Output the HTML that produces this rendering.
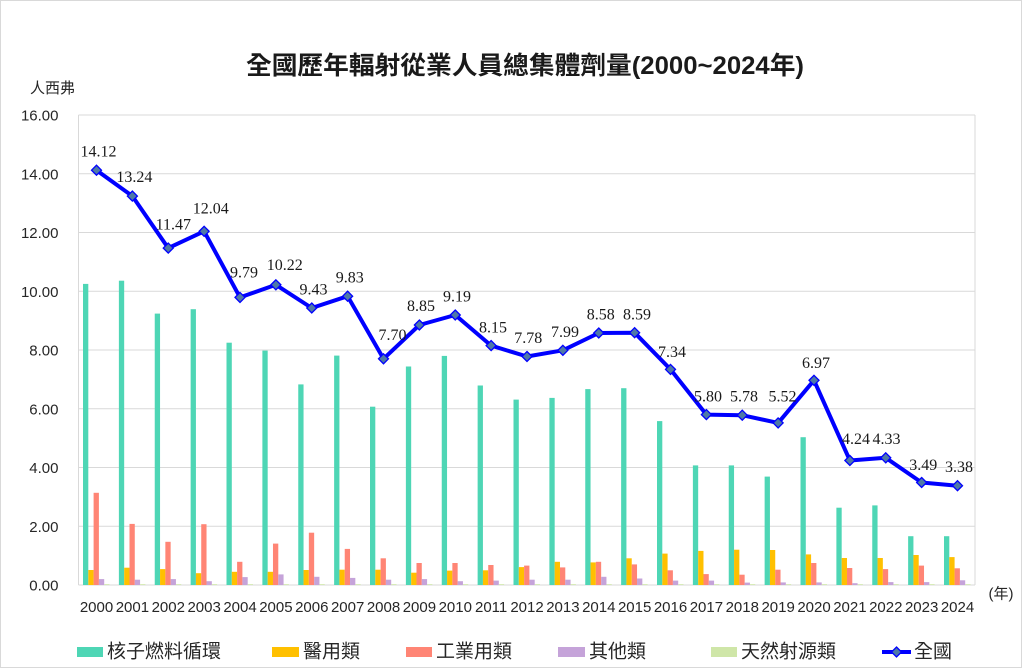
<!DOCTYPE html>
<html><head><meta charset="utf-8"><style>
html,body{margin:0;padding:0;background:#fff;}
svg{display:block;}
.t{font-family:"Liberation Sans","Noto Sans CJK TC",sans-serif;}
.ax{font-family:"Liberation Sans","Noto Sans CJK TC",sans-serif;font-size:15px;fill:#262626;}
.dl{font-family:"Liberation Serif","Noto Serif CJK SC",serif;font-size:16px;fill:#1a1a1a;text-anchor:middle;}
.lg{font-family:"Liberation Sans","Noto Sans CJK TC",sans-serif;font-size:19px;fill:#262626;dominant-baseline:central;}
</style></head><body>
<svg width="1024" height="669" viewBox="0 0 1024 669" xmlns="http://www.w3.org/2000/svg">
<rect x="0" y="0" width="1024" height="669" fill="#fff"/>
<rect x="0.5" y="0.5" width="1021" height="667" fill="none" stroke="#d9d9d9" stroke-width="1"/>
<text class="t" x="246" y="74" font-size="25" font-weight="bold" fill="#1a1a1a" textLength="558" lengthAdjust="spacingAndGlyphs">全國歷年輻射從業人員總集體劑量(2000~2024年)</text>
<text class="ax" x="30" y="93" fill="#404040">人西弗</text>
<!-- grid -->
<g stroke="#d9d9d9" stroke-width="1">
<line x1="78.5" y1="115" x2="975" y2="115"/>
<line x1="78.5" y1="173.75" x2="975" y2="173.75"/>
<line x1="78.5" y1="232.5" x2="975" y2="232.5"/>
<line x1="78.5" y1="291.25" x2="975" y2="291.25"/>
<line x1="78.5" y1="350" x2="975" y2="350"/>
<line x1="78.5" y1="408.75" x2="975" y2="408.75"/>
<line x1="78.5" y1="467.5" x2="975" y2="467.5"/>
<line x1="78.5" y1="526.25" x2="975" y2="526.25"/>
<line x1="78.5" y1="585" x2="975" y2="585"/>
<line x1="78.5" y1="115" x2="78.5" y2="585"/>
<line x1="975" y1="115" x2="975" y2="585"/>
</g>
<!-- y labels -->
<g class="ax" text-anchor="end">
<text x="58.5" y="120.5">16.00</text>
<text x="58.5" y="179.25">14.00</text>
<text x="58.5" y="238">12.00</text>
<text x="58.5" y="296.75">10.00</text>
<text x="58.5" y="355.5">8.00</text>
<text x="58.5" y="414.25">6.00</text>
<text x="58.5" y="473">4.00</text>
<text x="58.5" y="531.75">2.00</text>
<text x="58.5" y="590.5">0.00</text>
</g>
<!-- bars -->
<g id="bars">
<g transform="translate(96.5 585)"><rect x="-13.5" y="-301.1" width="5.3" height="301.1" fill="#4ED6B5"/><rect x="-8.2" y="-15.0" width="5.3" height="15.0" fill="#FFC000"/><rect x="-2.9" y="-92.2" width="5.3" height="92.2" fill="#FF8575"/><rect x="2.4" y="-5.9" width="5.3" height="5.9" fill="#C5A3D9"/><rect x="7.7" y="-0.8" width="5.3" height="0.8" fill="#CFE6A8"/></g>
<g transform="translate(132.38 585)"><rect x="-13.5" y="-304.3" width="5.3" height="304.3" fill="#4ED6B5"/><rect x="-8.2" y="-17.3" width="5.3" height="17.3" fill="#FFC000"/><rect x="-2.9" y="-61.1" width="5.3" height="61.1" fill="#FF8575"/><rect x="2.4" y="-5.3" width="5.3" height="5.3" fill="#C5A3D9"/><rect x="7.7" y="-0.8" width="5.3" height="0.8" fill="#CFE6A8"/></g>
<g transform="translate(168.25 585)"><rect x="-13.5" y="-271.4" width="5.3" height="271.4" fill="#4ED6B5"/><rect x="-8.2" y="-15.9" width="5.3" height="15.9" fill="#FFC000"/><rect x="-2.9" y="-43.2" width="5.3" height="43.2" fill="#FF8575"/><rect x="2.4" y="-5.9" width="5.3" height="5.9" fill="#C5A3D9"/><rect x="7.7" y="-0.8" width="5.3" height="0.8" fill="#CFE6A8"/></g>
<g transform="translate(204.13 585)"><rect x="-13.5" y="-275.8" width="5.3" height="275.8" fill="#4ED6B5"/><rect x="-8.2" y="-11.8" width="5.3" height="11.8" fill="#FFC000"/><rect x="-2.9" y="-60.8" width="5.3" height="60.8" fill="#FF8575"/><rect x="2.4" y="-3.8" width="5.3" height="3.8" fill="#C5A3D9"/><rect x="7.7" y="-0.8" width="5.3" height="0.8" fill="#CFE6A8"/></g>
<g transform="translate(240 585)"><rect x="-13.5" y="-242.3" width="5.3" height="242.3" fill="#4ED6B5"/><rect x="-8.2" y="-13.2" width="5.3" height="13.2" fill="#FFC000"/><rect x="-2.9" y="-23.2" width="5.3" height="23.2" fill="#FF8575"/><rect x="2.4" y="-7.9" width="5.3" height="7.9" fill="#C5A3D9"/><rect x="7.7" y="-0.8" width="5.3" height="0.8" fill="#CFE6A8"/></g>
<g transform="translate(275.88 585)"><rect x="-13.5" y="-234.4" width="5.3" height="234.4" fill="#4ED6B5"/><rect x="-8.2" y="-13.2" width="5.3" height="13.2" fill="#FFC000"/><rect x="-2.9" y="-41.4" width="5.3" height="41.4" fill="#FF8575"/><rect x="2.4" y="-10.6" width="5.3" height="10.6" fill="#C5A3D9"/><rect x="7.7" y="-0.8" width="5.3" height="0.8" fill="#CFE6A8"/></g>
<g transform="translate(311.75 585)"><rect x="-13.5" y="-200.6" width="5.3" height="200.6" fill="#4ED6B5"/><rect x="-8.2" y="-15.0" width="5.3" height="15.0" fill="#FFC000"/><rect x="-2.9" y="-52.3" width="5.3" height="52.3" fill="#FF8575"/><rect x="2.4" y="-8.2" width="5.3" height="8.2" fill="#C5A3D9"/><rect x="7.7" y="-0.8" width="5.3" height="0.8" fill="#CFE6A8"/></g>
<g transform="translate(347.63 585)"><rect x="-13.5" y="-229.4" width="5.3" height="229.4" fill="#4ED6B5"/><rect x="-8.2" y="-15.3" width="5.3" height="15.3" fill="#FFC000"/><rect x="-2.9" y="-36.1" width="5.3" height="36.1" fill="#FF8575"/><rect x="2.4" y="-7.1" width="5.3" height="7.1" fill="#C5A3D9"/><rect x="7.7" y="-0.8" width="5.3" height="0.8" fill="#CFE6A8"/></g>
<g transform="translate(383.5 585)"><rect x="-13.5" y="-178.3" width="5.3" height="178.3" fill="#4ED6B5"/><rect x="-8.2" y="-15.3" width="5.3" height="15.3" fill="#FFC000"/><rect x="-2.9" y="-26.7" width="5.3" height="26.7" fill="#FF8575"/><rect x="2.4" y="-5.3" width="5.3" height="5.3" fill="#C5A3D9"/><rect x="7.7" y="-0.8" width="5.3" height="0.8" fill="#CFE6A8"/></g>
<g transform="translate(419.38 585)"><rect x="-13.5" y="-218.5" width="5.3" height="218.5" fill="#4ED6B5"/><rect x="-8.2" y="-12.3" width="5.3" height="12.3" fill="#FFC000"/><rect x="-2.9" y="-22.0" width="5.3" height="22.0" fill="#FF8575"/><rect x="2.4" y="-5.9" width="5.3" height="5.9" fill="#C5A3D9"/><rect x="7.7" y="-0.8" width="5.3" height="0.8" fill="#CFE6A8"/></g>
<g transform="translate(455.25 585)"><rect x="-13.5" y="-229.1" width="5.3" height="229.1" fill="#4ED6B5"/><rect x="-8.2" y="-14.4" width="5.3" height="14.4" fill="#FFC000"/><rect x="-2.9" y="-22.0" width="5.3" height="22.0" fill="#FF8575"/><rect x="2.4" y="-3.8" width="5.3" height="3.8" fill="#C5A3D9"/><rect x="7.7" y="-0.8" width="5.3" height="0.8" fill="#CFE6A8"/></g>
<g transform="translate(491.13 585)"><rect x="-13.5" y="-199.5" width="5.3" height="199.5" fill="#4ED6B5"/><rect x="-8.2" y="-14.7" width="5.3" height="14.7" fill="#FFC000"/><rect x="-2.9" y="-20.0" width="5.3" height="20.0" fill="#FF8575"/><rect x="2.4" y="-4.4" width="5.3" height="4.4" fill="#C5A3D9"/><rect x="7.7" y="-0.8" width="5.3" height="0.8" fill="#CFE6A8"/></g>
<g transform="translate(527 585)"><rect x="-13.5" y="-185.4" width="5.3" height="185.4" fill="#4ED6B5"/><rect x="-8.2" y="-17.9" width="5.3" height="17.9" fill="#FFC000"/><rect x="-2.9" y="-19.4" width="5.3" height="19.4" fill="#FF8575"/><rect x="2.4" y="-5.3" width="5.3" height="5.3" fill="#C5A3D9"/><rect x="7.7" y="-0.8" width="5.3" height="0.8" fill="#CFE6A8"/></g>
<g transform="translate(562.88 585)"><rect x="-13.5" y="-187.1" width="5.3" height="187.1" fill="#4ED6B5"/><rect x="-8.2" y="-23.2" width="5.3" height="23.2" fill="#FFC000"/><rect x="-2.9" y="-17.6" width="5.3" height="17.6" fill="#FF8575"/><rect x="2.4" y="-5.3" width="5.3" height="5.3" fill="#C5A3D9"/><rect x="7.7" y="-0.8" width="5.3" height="0.8" fill="#CFE6A8"/></g>
<g transform="translate(598.75 585)"><rect x="-13.5" y="-195.9" width="5.3" height="195.9" fill="#4ED6B5"/><rect x="-8.2" y="-22.6" width="5.3" height="22.6" fill="#FFC000"/><rect x="-2.9" y="-23.2" width="5.3" height="23.2" fill="#FF8575"/><rect x="2.4" y="-8.2" width="5.3" height="8.2" fill="#C5A3D9"/><rect x="7.7" y="-0.8" width="5.3" height="0.8" fill="#CFE6A8"/></g>
<g transform="translate(634.63 585)"><rect x="-13.5" y="-196.8" width="5.3" height="196.8" fill="#4ED6B5"/><rect x="-8.2" y="-26.7" width="5.3" height="26.7" fill="#FFC000"/><rect x="-2.9" y="-20.6" width="5.3" height="20.6" fill="#FF8575"/><rect x="2.4" y="-6.5" width="5.3" height="6.5" fill="#C5A3D9"/><rect x="7.7" y="-0.8" width="5.3" height="0.8" fill="#CFE6A8"/></g>
<g transform="translate(670.5 585)"><rect x="-13.5" y="-163.9" width="5.3" height="163.9" fill="#4ED6B5"/><rect x="-8.2" y="-31.4" width="5.3" height="31.4" fill="#FFC000"/><rect x="-2.9" y="-14.7" width="5.3" height="14.7" fill="#FF8575"/><rect x="2.4" y="-4.4" width="5.3" height="4.4" fill="#C5A3D9"/><rect x="7.7" y="-0.8" width="5.3" height="0.8" fill="#CFE6A8"/></g>
<g transform="translate(706.38 585)"><rect x="-13.5" y="-119.6" width="5.3" height="119.6" fill="#4ED6B5"/><rect x="-8.2" y="-34.1" width="5.3" height="34.1" fill="#FFC000"/><rect x="-2.9" y="-10.9" width="5.3" height="10.9" fill="#FF8575"/><rect x="2.4" y="-4.4" width="5.3" height="4.4" fill="#C5A3D9"/><rect x="7.7" y="-0.8" width="5.3" height="0.8" fill="#CFE6A8"/></g>
<g transform="translate(742.25 585)"><rect x="-13.5" y="-119.6" width="5.3" height="119.6" fill="#4ED6B5"/><rect x="-8.2" y="-35.3" width="5.3" height="35.3" fill="#FFC000"/><rect x="-2.9" y="-10.3" width="5.3" height="10.3" fill="#FF8575"/><rect x="2.4" y="-2.4" width="5.3" height="2.4" fill="#C5A3D9"/><rect x="7.7" y="-0.8" width="5.3" height="0.8" fill="#CFE6A8"/></g>
<g transform="translate(778.13 585)"><rect x="-13.5" y="-108.4" width="5.3" height="108.4" fill="#4ED6B5"/><rect x="-8.2" y="-35.0" width="5.3" height="35.0" fill="#FFC000"/><rect x="-2.9" y="-15.3" width="5.3" height="15.3" fill="#FF8575"/><rect x="2.4" y="-2.6" width="5.3" height="2.6" fill="#C5A3D9"/><rect x="7.7" y="-0.8" width="5.3" height="0.8" fill="#CFE6A8"/></g>
<g transform="translate(814 585)"><rect x="-13.5" y="-147.8" width="5.3" height="147.8" fill="#4ED6B5"/><rect x="-8.2" y="-30.6" width="5.3" height="30.6" fill="#FFC000"/><rect x="-2.9" y="-22.0" width="5.3" height="22.0" fill="#FF8575"/><rect x="2.4" y="-2.6" width="5.3" height="2.6" fill="#C5A3D9"/><rect x="7.7" y="-0.8" width="5.3" height="0.8" fill="#CFE6A8"/></g>
<g transform="translate(849.88 585)"><rect x="-13.5" y="-77.3" width="5.3" height="77.3" fill="#4ED6B5"/><rect x="-8.2" y="-27.0" width="5.3" height="27.0" fill="#FFC000"/><rect x="-2.9" y="-17.0" width="5.3" height="17.0" fill="#FF8575"/><rect x="2.4" y="-1.8" width="5.3" height="1.8" fill="#C5A3D9"/><rect x="7.7" y="-0.8" width="5.3" height="0.8" fill="#CFE6A8"/></g>
<g transform="translate(885.75 585)"><rect x="-13.5" y="-79.6" width="5.3" height="79.6" fill="#4ED6B5"/><rect x="-8.2" y="-27.0" width="5.3" height="27.0" fill="#FFC000"/><rect x="-2.9" y="-15.9" width="5.3" height="15.9" fill="#FF8575"/><rect x="2.4" y="-2.9" width="5.3" height="2.9" fill="#C5A3D9"/><rect x="7.7" y="-0.8" width="5.3" height="0.8" fill="#CFE6A8"/></g>
<g transform="translate(921.63 585)"><rect x="-13.5" y="-48.8" width="5.3" height="48.8" fill="#4ED6B5"/><rect x="-8.2" y="-30.0" width="5.3" height="30.0" fill="#FFC000"/><rect x="-2.9" y="-19.4" width="5.3" height="19.4" fill="#FF8575"/><rect x="2.4" y="-2.9" width="5.3" height="2.9" fill="#C5A3D9"/><rect x="7.7" y="-0.8" width="5.3" height="0.8" fill="#CFE6A8"/></g>
<g transform="translate(957.5 585)"><rect x="-13.5" y="-48.8" width="5.3" height="48.8" fill="#4ED6B5"/><rect x="-8.2" y="-27.9" width="5.3" height="27.9" fill="#FFC000"/><rect x="-2.9" y="-16.7" width="5.3" height="16.7" fill="#FF8575"/><rect x="2.4" y="-4.7" width="5.3" height="4.7" fill="#C5A3D9"/><rect x="7.7" y="-0.8" width="5.3" height="0.8" fill="#CFE6A8"/></g>
</g>
<!-- line -->
<polyline fill="none" stroke="#0000FF" stroke-width="4" stroke-linejoin="round" points="96.5,170.2 132.38,196.1 168.25,248.1 204.13,231.3 240,297.4 275.88,284.8 311.75,308 347.63,296.2 383.5,358.8 419.38,325 455.25,315 491.13,345.6 527,356.5 562.88,350.3 598.75,333 634.63,332.7 670.5,369.4 706.38,414.6 742.25,415.2 778.13,422.9 814,380.3 849.88,460.5 885.75,457.8 921.63,482.5 957.5,485.7"/>
<g fill="#4E79A7" stroke="#0000FF" stroke-width="1.3">
<polygon points="96.5,165.2 101.5,170.2 96.5,175.2 91.5,170.2"/>
<polygon points="132.38,191.1 137.38,196.1 132.38,201.1 127.38,196.1"/>
<polygon points="168.25,243.1 173.25,248.1 168.25,253.1 163.25,248.1"/>
<polygon points="204.13,226.3 209.13,231.3 204.13,236.3 199.13,231.3"/>
<polygon points="240,292.4 245,297.4 240,302.4 235,297.4"/>
<polygon points="275.88,279.8 280.88,284.8 275.88,289.8 270.88,284.8"/>
<polygon points="311.75,303 316.75,308 311.75,313 306.75,308"/>
<polygon points="347.63,291.2 352.63,296.2 347.63,301.2 342.63,296.2"/>
<polygon points="383.5,353.8 388.5,358.8 383.5,363.8 378.5,358.8"/>
<polygon points="419.38,320 424.38,325 419.38,330 414.38,325"/>
<polygon points="455.25,310 460.25,315 455.25,320 450.25,315"/>
<polygon points="491.13,340.6 496.13,345.6 491.13,350.6 486.13,345.6"/>
<polygon points="527,351.5 532,356.5 527,361.5 522,356.5"/>
<polygon points="562.88,345.3 567.88,350.3 562.88,355.3 557.88,350.3"/>
<polygon points="598.75,328 603.75,333 598.75,338 593.75,333"/>
<polygon points="634.63,327.7 639.63,332.7 634.63,337.7 629.63,332.7"/>
<polygon points="670.5,364.4 675.5,369.4 670.5,374.4 665.5,369.4"/>
<polygon points="706.38,409.6 711.38,414.6 706.38,419.6 701.38,414.6"/>
<polygon points="742.25,410.2 747.25,415.2 742.25,420.2 737.25,415.2"/>
<polygon points="778.13,417.9 783.13,422.9 778.13,427.9 773.13,422.9"/>
<polygon points="814,375.3 819,380.3 814,385.3 809,380.3"/>
<polygon points="849.88,455.5 854.88,460.5 849.88,465.5 844.88,460.5"/>
<polygon points="885.75,452.8 890.75,457.8 885.75,462.8 880.75,457.8"/>
<polygon points="921.63,477.5 926.63,482.5 921.63,487.5 916.63,482.5"/>
<polygon points="957.5,480.7 962.5,485.7 957.5,490.7 952.5,485.7"/>
</g>
<!-- data labels -->
<g class="dl">
<text x="98.5" y="156.5">14.12</text>
<text x="134.4" y="182">13.24</text>
<text x="173.3" y="229.5">11.47</text>
<text x="210.7" y="213.3">12.04</text>
<text x="244" y="277.5">9.79</text>
<text x="284.7" y="270.2">10.22</text>
<text x="313.5" y="294.5">9.43</text>
<text x="349.8" y="282.5">9.83</text>
<text x="392.5" y="340">7.70</text>
<text x="421" y="311.2">8.85</text>
<text x="457" y="301.5">9.19</text>
<text x="493" y="332.5">8.15</text>
<text x="528.3" y="342.8">7.78</text>
<text x="565" y="336.8">7.99</text>
<text x="600.8" y="319.5">8.58</text>
<text x="637" y="319.5">8.59</text>
<text x="672" y="356.8">7.34</text>
<text x="708" y="401.5">5.80</text>
<text x="744" y="401.5">5.78</text>
<text x="782.5" y="401.5">5.52</text>
<text x="816" y="367.8">6.97</text>
<text x="856" y="443.8">4.24</text>
<text x="886.5" y="443.8">4.33</text>
<text x="923.3" y="470.2">3.49</text>
<text x="959" y="472.2">3.38</text>
</g>
<!-- x labels -->
<g class="ax" text-anchor="middle">
<text x="96.5" y="612">2000</text>
<text x="132.38" y="612">2001</text>
<text x="168.25" y="612">2002</text>
<text x="204.13" y="612">2003</text>
<text x="240" y="612">2004</text>
<text x="275.88" y="612">2005</text>
<text x="311.75" y="612">2006</text>
<text x="347.63" y="612">2007</text>
<text x="383.5" y="612">2008</text>
<text x="419.38" y="612">2009</text>
<text x="455.25" y="612">2010</text>
<text x="491.13" y="612">2011</text>
<text x="527" y="612">2012</text>
<text x="562.88" y="612">2013</text>
<text x="598.75" y="612">2014</text>
<text x="634.63" y="612">2015</text>
<text x="670.5" y="612">2016</text>
<text x="706.38" y="612">2017</text>
<text x="742.25" y="612">2018</text>
<text x="778.13" y="612">2019</text>
<text x="814" y="612">2020</text>
<text x="849.88" y="612">2021</text>
<text x="885.75" y="612">2022</text>
<text x="921.63" y="612">2023</text>
<text x="957.5" y="612">2024</text>
<text x="1001" y="598.5">(年)</text>
</g>
<!-- legend -->
<rect x="77" y="647" width="26" height="10" fill="#4ED6B5"/>
<text class="lg" x="107" y="652">核子燃料循環</text>
<rect x="272" y="647" width="27" height="10" fill="#FFC000"/>
<text class="lg" x="303" y="652">醫用類</text>
<rect x="406" y="647" width="26" height="10" fill="#FF8575"/>
<text class="lg" x="436" y="652">工業用類</text>
<rect x="558" y="647" width="27" height="10" fill="#C5A3D9"/>
<text class="lg" x="589" y="652">其他類</text>
<rect x="711" y="647" width="26" height="10" fill="#CFE6A8"/>
<text class="lg" x="741" y="652">天然射源類</text>
<line x1="882" y1="652" x2="911" y2="652" stroke="#0000FF" stroke-width="4"/>
<polygon points="896.5,647 901.5,652 896.5,657 891.5,652" fill="#4E79A7" stroke="#0000FF" stroke-width="1.3"/>
<text class="lg" x="914" y="652">全國</text>
</svg>
</body></html>
